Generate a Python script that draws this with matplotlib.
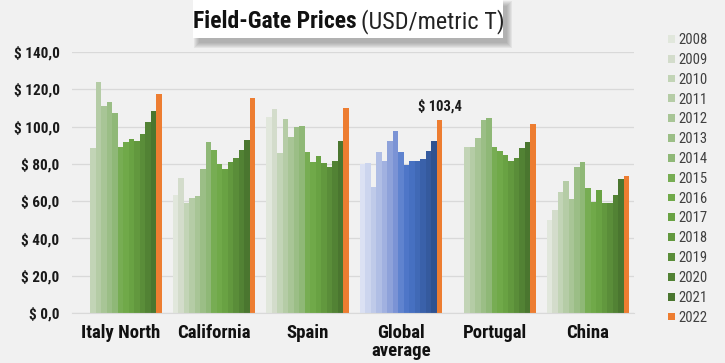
import matplotlib.pyplot as plt
import numpy as np
from matplotlib import font_manager
from matplotlib.patches import Rectangle

nan = np.nan

regions = ["Italy North", "California", "Spain", "Global\naverage", "Portugal", "China"]
years = [str(y) for y in range(2008, 2023)]

# USD per metric ton, one value per year 2008..2022
italy_north = [nan, nan, 88.6, 124.1, 111.2, 113.0, 107.1, 89.2, 91.9, 93.6, 92.4, 95.8, 102.6, 108.3, 117.3]
california = [63.1, 72.3, 58.8, 61.6, 62.7, 77.5, 91.5, 87.7, 79.7, 77.5, 80.8, 83.4, 87.7, 92.7, 115.5]
spain = [105.3, 109.3, 85.8, 103.9, 94.2, 99.6, 100.5, 86.2, 81.0, 84.2, 80.2, 78.1, 81.7, 92.0, 110.0]
global_average = [79.8, 80.7, 67.6, 86.1, 81.4, 92.2, 97.6, 86.1, 79.3, 81.4, 81.6, 82.5, 87.0, 92.2, 103.4]
portugal = [nan, nan, 88.8, 88.8, 93.7, 103.6, 104.5, 89.2, 86.8, 84.7, 81.6, 83.2, 88.6, 91.9, 101.4]
china = [49.9, 55.3, 65.1, 71.0, 61.0, 78.5, 81.2, 66.9, 59.7, 66.0, 58.9, 59.2, 63.3, 71.7, 73.3]

yticks = [0, 20, 40, 60, 80, 100, 120, 140]

greens = ["#e1e7dc", "#d3dccb", "#c2d4b6", "#b5cca6", "#a8c596", "#9bbe86", "#8fb877",
          "#77ad53", "#70a949", "#69a243", "#62983e", "#5a8d39", "#528234", "#4a762f", "#ed7d31"]
blues = ["#dbe1f3", "#ccd5ee", "#bfcae9", "#b0bee5", "#a1b1e0", "#8ea2da", "#7b93d5",
         "#5f83cf", "#4e76c8", "#4670c1", "#4069b6", "#3a61aa", "#355a9e", "#2f5290", "#ed7d31"]

# pick a narrow sans if one is installed
fonts = font_manager.fontManager.ttflist
names = {f.name for f in fonts}
NARROW, STRETCH = "Liberation Sans", "normal"
for cand in ["Liberation Sans Narrow", "Roboto Condensed", "Open Sans Condensed"]:
    if cand in names:
        NARROW = cand
        break
else:
    condensed = [f.name for f in fonts if f.stretch in ("condensed", "semi-condensed")]
    if condensed:
        NARROW, STRETCH = condensed[0], "condensed"

BG = "#f1f1f1"

W, H = 725, 363
fig = plt.figure(figsize=(W / 100, H / 100), dpi=100)
fig.patch.set_facecolor(BG)
ax = fig.add_axes([72 / W, 50 / H, (634 - 72) / W, (313 - 52) / H])
ax.set_facecolor(BG)

table = np.array([italy_north, california, spain, global_average, portugal, china])
x = np.arange(len(regions))
n = len(years)
w = 0.0588

for i, year in enumerate(years):
    offs = (i - (n - 1) / 2) * w
    bars = ax.bar(x + offs, table[:, i], width=w, color=greens[i], label=year,
                  linewidth=0, zorder=2)
    bars[3].set_facecolor(blues[i])

font = {"family": NARROW, "stretch": STRETCH}

# value label on the 2022 global bar
gx = x[3] + (n - 1 - (n - 1) / 2) * w
gv = global_average[-1]
ax.annotate(f"$ {gv:.1f}".replace(".", ","), (gx, gv), xytext=(0, 5),
            textcoords="offset points", ha="center", va="bottom",
            fontweight="bold", fontsize=10.5, color="#1a1a1a", **font)

ax.set_xlim(-0.519, 5.492)
ax.set_ylim(0, 140)
ax.set_yticks(yticks)
ax.set_yticklabels([f"$ {v:.1f}".replace(".", ",") for v in yticks],
                   fontweight="bold", fontsize=11, color="#1a1a1a", **font)
ax.set_xticks(x)
ax.set_xticklabels(regions, fontweight="bold", fontsize=13.5,
                   color="#111111", linespacing=1.0, **font)
ax.tick_params(axis="both", length=0)
ax.tick_params(axis="y", pad=9)
ax.tick_params(axis="x", pad=8)
ax.grid(axis="y", color="#d9d9d9", linewidth=0.9, zorder=0)
for s in ["left", "right", "top"]:
    ax.spines[s].set_visible(False)
ax.spines["bottom"].set_color("#d9d9d9")

leg = ax.legend(loc="upper left", bbox_to_anchor=(668 / W, 1 - 33 / H),
                bbox_transform=fig.transFigure, frameon=False,
                prop={"family": NARROW, "stretch": STRETCH, "size": 10.5},
                handlelength=0.45, handleheight=0.45, handletextpad=0.25,
                labelspacing=0.4, borderaxespad=0, borderpad=0)
for t in leg.get_texts():
    t.set_color("#404040")

# title box with a soft drop shadow
bx0, bx1, by0, by1 = 193, 503, 325, 363


def px_rect(x0, y0, x1, y1, **kw):
    return Rectangle((x0 / W, y0 / H), (x1 - x0) / W, (y1 - y0) / H,
                     transform=fig.transFigure, **kw)


for k in range(6):
    grow = 5 - k
    fig.add_artist(px_rect(bx0 + 6 - grow, by0 - 5 - grow, bx1 + 4 + grow, by1 - 6 + grow,
                           facecolor="#6e6e6e", alpha=0.1, linewidth=0))
fig.add_artist(px_rect(bx0, by0, bx1, by1, facecolor="white", linewidth=0))

fig.text(357 / W, 1 - 22 / H, "Field-Gate Prices", ha="right", va="center",
         fontweight="bold", fontsize=17, color="#111111", **font)
fig.text(361 / W, 1 - 22 / H, "(USD/metric T)", ha="left", va="center",
         fontsize=17.5, color="#222222", **font)

fig.savefig("out.png", dpi=100, facecolor=BG)
